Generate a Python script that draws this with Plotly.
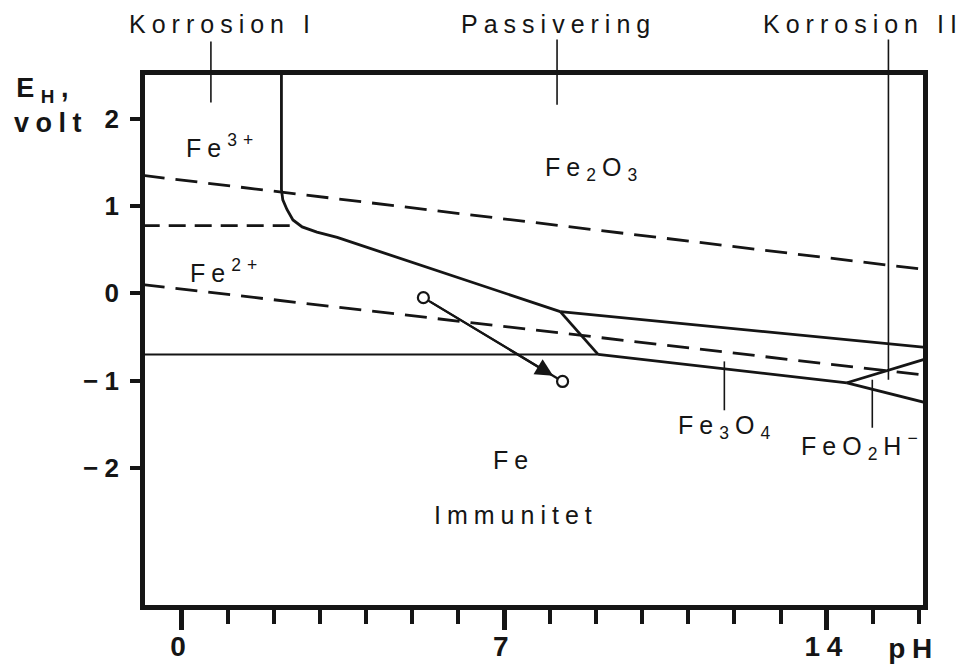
import plotly.graph_objects as go

# Axis window: pH along x, electrode potential E_H (volt) along y
PH_RANGE = [-0.79, 16.09]
E_RANGE = [-3.57, 2.50]

# Water stability limits (dashed)
ph_o2 = [-0.84, 16.16]
e_o2 = [1.35, 0.27]
ph_h2 = [-0.84, 16.16]
e_h2 = [0.10, -0.94]

# Fe3+/Fe2+ couple (dashed)
ph_fe3_fe2 = [-0.84, 2.42]
e_fe3_fe2 = [0.775, 0.775]

# Fe3+ / Fe2+ against Fe2O3 (solid, curved knee)
ph_ion_fe2o3 = [2.17, 2.17, 2.20, 2.29, 2.42, 2.62, 2.94, 3.38, 8.22]
e_ion_fe2o3 = [2.53, 1.19, 1.07, 0.96, 0.84, 0.76, 0.70, 0.64, -0.21]

# Fe2O3 / Fe3O4
ph_fe2o3_fe3o4 = [8.22, 16.16]
e_fe2o3_fe3o4 = [-0.21, -0.62]

# Fe2+ / Fe3O4
ph_fe2_fe3o4 = [8.22, 9.04]
e_fe2_fe3o4 = [-0.21, -0.70]

# Fe / Fe2+
ph_fe_fe2 = [-0.84, 9.04]
e_fe_fe2 = [-0.70, -0.70]

# Fe / Fe3O4
ph_fe_fe3o4 = [9.04, 14.44]
e_fe_fe3o4 = [-0.70, -1.025]

# Fe / FeO2H-
ph_fe_feo2h = [14.44, 16.16]
e_fe_feo2h = [-1.025, -1.255]

# Fe3O4 / FeO2H-
ph_fe3o4_feo2h = [14.44, 16.16]
e_fe3o4_feo2h = [-1.025, -0.75]

# Path of a shift in conditions (start -> end)
ph_path = [5.25, 8.27]
e_path = [-0.05, -1.01]

# Tick labels
x_ticks = [0, 7, 14]
x_ticktext = ["0", "7", "14"]
x_minor = list(range(0, 17))
y_ticks = [2, 1, 0, -1, -2]
y_ticktext = ["2", "1", "0", "\u22121", "\u22122"]

INK = "#151515"
FONT = "Liberation Sans"


def ypaper(e):
    return (e - E_RANGE[0]) / (E_RANGE[1] - E_RANGE[0])


fig = go.Figure()


def boundary(x, y, width=2.8, dash="solid"):
    fig.add_trace(go.Scatter(
        x=x, y=y, mode="lines",
        line=dict(color=INK, width=width, dash=dash),
        showlegend=False, hoverinfo="skip",
    ))


boundary(ph_o2, e_o2, 2.8, "22px,11px")
boundary(ph_h2, e_h2, 2.8, "22px,11px")
boundary(ph_fe3_fe2, e_fe3_fe2, 2.8, "17px,9px")
boundary(ph_ion_fe2o3, e_ion_fe2o3, 2.8)
boundary(ph_fe2o3_fe3o4, e_fe2o3_fe3o4, 2.8)
boundary(ph_fe2_fe3o4, e_fe2_fe3o4, 2.8)
boundary(ph_fe_fe2, e_fe_fe2, 2.0)
boundary(ph_fe_fe3o4, e_fe_fe3o4, 2.8)
boundary(ph_fe_feo2h, e_fe_feo2h, 2.8)
boundary(ph_fe3o4_feo2h, e_fe3o4_feo2h, 2.8)

# path line and its end circles
fig.add_trace(go.Scatter(
    x=ph_path, y=e_path, mode="lines",
    line=dict(color=INK, width=2.2),
    showlegend=False, hoverinfo="skip",
))
fig.add_trace(go.Scatter(
    x=ph_path, y=e_path, mode="markers",
    marker=dict(symbol="circle", size=11, color="white",
                line=dict(color=INK, width=2.2)),
    showlegend=False, hoverinfo="skip", cliponaxis=False,
))

annotations = [
    # arrow head on the path
    dict(x=ph_path[1], y=e_path[1], ax=ph_path[0], ay=e_path[0],
         xref="x", yref="y", axref="x", ayref="y", text="",
         showarrow=True, arrowhead=2, arrowsize=1.6, arrowwidth=2.2,
         arrowcolor=INK, standoff=11, startstandoff=6),
]

region_font = dict(family=FONT, size=25, color=INK)
labels = [
    ("Fe<sup>3+</sup>", 0.89, 1.69),
    ("Fe<sup>2+</sup>", 0.98, 0.25),
    ("Fe<sub>2</sub>O<sub>3</sub>", 8.96, 1.42),
    ("Fe", 7.21, -1.91),
    ("Immunitet", 7.27, -2.54),
    ("Fe<sub>3</sub>O<sub>4</sub>", 11.84, -1.53),
    ("FeO<sub>2</sub>H<sup>\u2212</sup>", 14.78, -1.75),
]
for txt, x, y in labels:
    annotations.append(dict(text=txt, x=x, y=y, xref="x", yref="y",
                            showarrow=False, font=region_font,
                            xanchor="center", yanchor="middle"))

for txt, x in [("Korrosion I", 0.100), ("Passivering", 0.532),
               ("Korrosion II", 0.923)]:
    annotations.append(dict(text=txt, x=x, y=1.097, xref="paper",
                            yref="paper", showarrow=False, font=region_font,
                            xanchor="center", yanchor="middle"))

axis_font = dict(family=FONT, size=27, color=INK, weight="bold")
annotations += [
    dict(text="E<sub>H</sub>,", x=-0.156, y=0.972, xref="paper",
         yref="paper", showarrow=False, font=axis_font,
         xanchor="left", yanchor="middle"),
    dict(text="volt", x=-0.154, y=0.910, xref="paper", yref="paper",
         showarrow=False, font=axis_font, xanchor="left", yanchor="middle"),
    dict(text="pH", x=0.988, y=-0.082, xref="paper", yref="paper",
         showarrow=False, font=dict(family=FONT, size=28, color=INK,
                                    weight="bold"),
         xanchor="center", yanchor="middle"),
]

# leader lines from labels into their regions
leader = dict(color=INK, width=1.6)
shapes = [
    dict(type="line", xref="x", yref="paper", x0=0.64, x1=0.64,
         y0=1.063, y1=0.948, line=leader),
    dict(type="line", xref="x", yref="paper", x0=8.15, x1=8.15,
         y0=1.067, y1=0.944, line=leader),
    dict(type="line", xref="x", yref="paper", x0=15.34, x1=15.34,
         y0=1.067, y1=ypaper(-0.99), line=leader),
    dict(type="line", xref="x", yref="y", x0=11.78, x1=11.78,
         y0=-0.78, y1=-1.34, line=leader),
    dict(type="line", xref="x", yref="y", x0=14.99, x1=14.99,
         y0=-0.99, y1=-1.54, line=leader),
]

fig.update_layout(
    width=963, height=666,
    margin=dict(l=145, r=40, t=75, b=61),
    paper_bgcolor="white", plot_bgcolor="white",
    font=dict(family=FONT, size=25, color=INK),
    annotations=annotations, shapes=shapes,
    xaxis=dict(
        range=PH_RANGE, showgrid=False, zeroline=False, automargin=False,
        showline=True, linewidth=4.5, linecolor=INK, mirror=True,
        tickvals=x_ticks, ticktext=x_ticktext, ticks="outside",
        ticklen=20, tickwidth=4.5, tickcolor=INK, ticklabelstandoff=-7,
        tickfont=dict(family=FONT, size=28, color=INK, weight="bold"),
        minor=dict(tickvals=x_minor, ticks="outside", ticklen=14,
                   tickwidth=3.5, tickcolor=INK, showgrid=False),
    ),
    yaxis=dict(
        range=E_RANGE, showgrid=False, zeroline=False, automargin=False,
        showline=True, linewidth=4.5, linecolor=INK, mirror=True,
        tickvals=y_ticks, ticktext=y_ticktext, ticks="outside",
        ticklen=10, tickwidth=4, tickcolor=INK,
        tickfont=dict(family=FONT, size=26, color=INK, weight="bold"),
    ),
)

# widen the tracking of the lettering
post = """
var gd = document.getElementById('{plot_id}');
gd.querySelectorAll('.annotation-text, .xtick text, .ytick text').forEach(function(t){
    var fs = parseFloat(window.getComputedStyle(t).fontSize) || 25;
    t.style.letterSpacing = (0.24 * fs).toFixed(1) + 'px';
});
"""

fig.write_html("out.html", post_script=post)
